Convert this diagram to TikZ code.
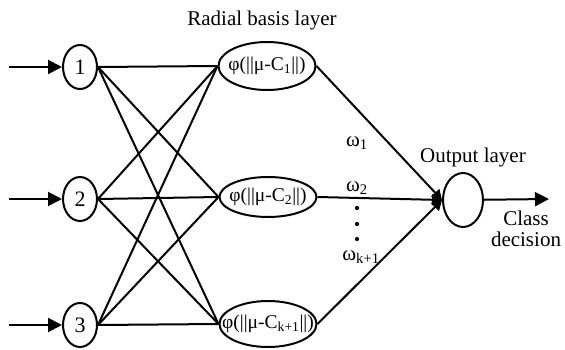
\documentclass[tikz,border=0pt]{standalone}
\usepackage{fontspec}
\setmainfont{Liberation Serif}
\usetikzlibrary{arrows.meta,shapes.geometric}
\begin{document}
\begin{tikzpicture}[x=1pt,y=-1pt,
  txt/.style={font=\fontsize{21}{23}\selectfont, inner sep=0pt},
  inode/.style={draw, ellipse, line width=2pt, minimum width=34pt, minimum height=44pt,
    inner sep=0pt, font=\fontsize{22}{24}\selectfont},
  rbf/.style={draw, ellipse, line width=2pt, minimum width=97pt, inner sep=0pt},
  rbftext/.style={font=\fontsize{19.5}{22}\selectfont, inner sep=0pt},
  onode/.style={draw, ellipse, line width=2pt, minimum width=40pt, minimum height=54pt, inner sep=0pt},
  link/.style={line width=2pt},
  feed/.style={line width=2pt, -{Triangle[length=14pt,width=14pt]}},
  wlink/.style={line width=2pt, -{Triangle[length=10pt,width=11pt]}},
  wdot/.style={circle, fill, inner sep=0pt, minimum size=4.2pt}]
\path[use as bounding box] (0,0) rectangle (565,350);

% input layer
\node[inode] (i1) at (80,67) {1};
\node[inode] (i2) at (80,199) {2};
\node[inode] (i3) at (80,325) {3};
\coordinate (s1) at (9,67);
\coordinate (s2) at (9,199);
\coordinate (s3) at (9,325);
\foreach \k in {1,2,3} \draw[feed] (s\k) -- (i\k);

% radial basis layer: fixed-size ellipses with the kernel written inside
\node[txt] (title) at (262,20) {Radial basis layer};
\node[rbf, minimum height=48pt] (r1) at (267,66) {};
\node[rbf, minimum height=40pt] (r2) at (268,197) {};
\node[rbf, minimum height=46pt] (r3) at (268,324) {};
\node[rbftext] (t1) at (r1) {φ(||μ-C\textsubscript{1}||)};
\node[rbftext] (t2) at (r2) {φ(||μ-C\textsubscript{2}||)};
\node[rbftext] (t3) at (r3) {φ(||μ-C\textsubscript{k+1}||)};

% full connections input -> hidden
\foreach \a in {1,2,3}
  \foreach \b in {1,2,3}
    \draw[link] (i\a.east) -- (r\b.west);

% output layer
\node[onode] (o) at (463,200) {};
\node[txt] (otitle) at (473,157) {Output layer};
\foreach \b in {1,2,3} \draw[wlink] (r\b.east) -- (o.west);

% weights
\node[txt] (w1) at (357,143) {ω\textsubscript{1}};
\node[txt] (w2) at (357,188) {ω\textsubscript{2}};
\node[wdot] (d1) at (357,208) {};
\node[wdot] (d2) at (357,224) {};
\node[wdot] (d3) at (357,239) {};
\node[txt] (w3) at (361,257) {ω\textsubscript{k+1}};

% class decision
\coordinate (e) at (549,199);
\draw[feed] (o) -- (e);
\node[txt, align=center] (cls) at (526,229) {Class\\[-2pt]decision};
\end{tikzpicture}
\end{document}
